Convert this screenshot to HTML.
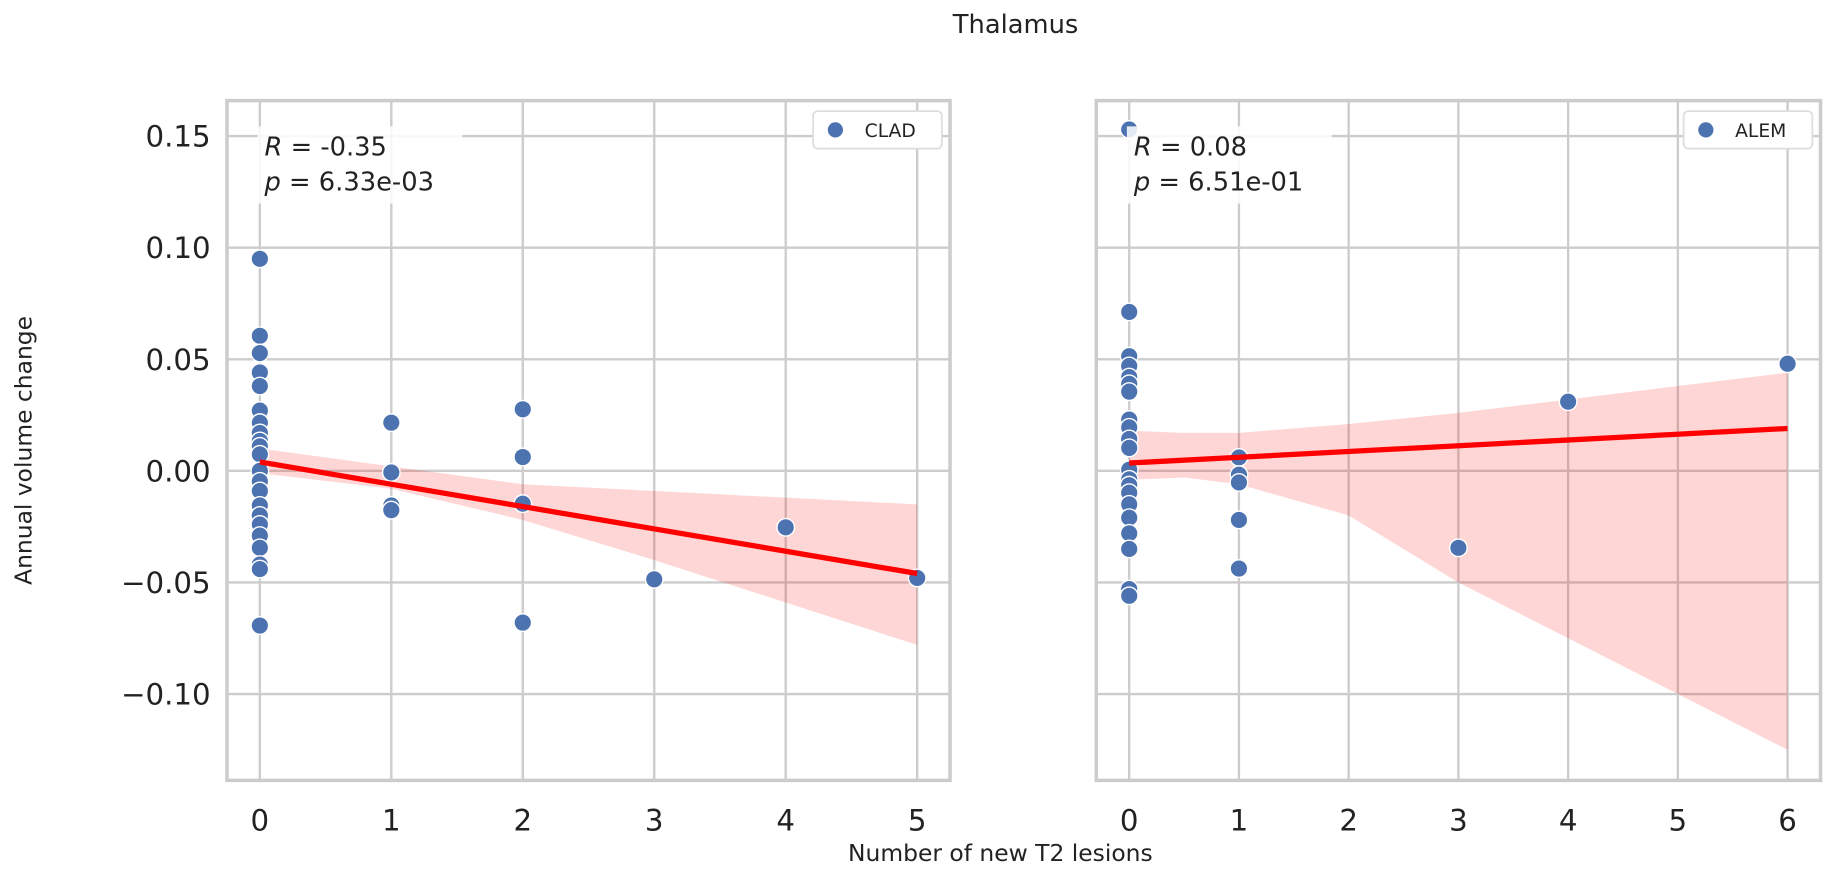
<!DOCTYPE html>
<html><head><meta charset="utf-8"><style>
body{margin:0;background:#fff;}
svg{display:block;font-family:"DejaVu Sans","Liberation Sans",sans-serif;}
</style></head><body>
<svg width="1831" height="869">
<g id="chart" transform="scale(1.17)">
<text x="868" y="28" font-size="22" fill="#222" text-anchor="middle">Thalamus</text>
<text x="27" y="385" font-size="20" fill="#222" text-anchor="middle" transform="rotate(-90 27 385)">Annual volume change</text>
<text x="855" y="736" font-size="20" fill="#222" text-anchor="middle">Number of new T2 lesions</text>
</g>
</svg>
<script>
const yTicks=[0.15,0.10,0.05,0.00,-0.05,-0.10];
const yTickLabels=["0.15","0.10","0.05","0.00","\u22120.05","\u22120.10"];
const cladX=[0,0,0,0,0,0,0,0,0,0,0,0,0,0,0,0,0,0,0,0,0,0,1,1,1,1,2,2,2,2,3,4,5];
const cladY=[0.095,0.0605,0.0528,0.0441,0.038,0.027,0.0216,0.017,0.0134,0.011,0.0074,0,-0.0047,-0.009,-0.0155,-0.020,-0.024,-0.029,-0.0345,-0.042,-0.044,-0.0693,0.0216,-0.0007,-0.0155,-0.0176,0.0276,0.0062,-0.0147,-0.068,-0.0486,-0.0253,-0.048];
const cladCiX=[0,1,2,3,4,5];
const cladCiLo=[-0.001,-0.008,-0.022,-0.040,-0.059,-0.078];
const cladCiHi=[0.010,0.002,-0.006,-0.009,-0.012,-0.015];
const cladFit=[0.004,-0.046];
const alemX=[0,0,0,0,0,0,0,0,0,0,0,0,0,0,0,0,0,0,0,0,0,1,1,1,1,1,3,4,6];
const alemY=[0.153,0.0712,0.0514,0.047,0.042,0.039,0.0355,0.023,0.0195,0.0143,0.0103,0.0005,-0.0038,-0.0064,-0.0098,-0.015,-0.021,-0.028,-0.035,-0.053,-0.056,0.006,-0.0017,-0.0052,-0.022,-0.0438,-0.0345,0.031,0.048];
const alemCiX=[0,0.5,1,2,3,4,5,6];
const alemCiLo=[-0.004,-0.003,-0.006,-0.020,-0.050,-0.075,-0.100,-0.125];
const alemCiHi=[0.018,0.017,0.017,0.021,0.026,0.032,0.038,0.044];
const alemFit=[0.0035,0.019];
const panels=[
 {name:'clad',label:'CLAD',x0:194,x1:812,xmin:-0.25,xmax:5.25,xt:[0,1,2,3,4,5],xs:cladX,ys:cladY,cx:cladCiX,lo:cladCiLo,hi:cladCiHi,fit:cladFit,fx:[0,5],R:'-0.35',p:'6.33e-03',yl:true},
 {name:'alem',label:'ALEM',x0:937,x1:1556,xmin:-0.3,xmax:6.3,xt:[0,1,2,3,4,5,6],xs:alemX,ys:alemY,cx:alemCiX,lo:alemCiLo,hi:alemCiHi,fit:alemFit,fx:[0,6],R:'0.08',p:'6.51e-01',yl:false}
];
const NS='http://www.w3.org/2000/svg';
const svg=document.getElementById('chart');
const top0=86,bot0=667,ymax=0.1659,ymin=-0.1387;
const Y=v=>top0+(ymax-v)/(ymax-ymin)*(bot0-top0);
function mk(t,a,parent){const e=document.createElementNS(NS,t);for(const k in a)e.setAttribute(k,a[k]);(parent||svg).appendChild(e);return e;}
panels.forEach(P=>{
 const X=v=>P.x0+(v-P.xmin)/(P.xmax-P.xmin)*(P.x1-P.x0);
 const g=mk('g',{});
 
 
 yTicks.forEach((t,i)=>{
  const l=mk('line',{x1:P.x0,x2:P.x1,y1:Y(t),y2:Y(t),stroke:'#cccccc','stroke-width':2},g);
  
  
  if(P.yl){const tx=mk('text',{x:P.x0-14,y:Y(t)+9,'font-size':25,fill:'#222','text-anchor':'end'},g);tx.textContent=yTickLabels[i];
  
  }
 });
 P.xt.forEach(t=>{
  const l=mk('line',{x1:X(t),x2:X(t),y1:top0,y2:bot0,stroke:'#cccccc','stroke-width':2},g);
  
  
  const tx=mk('text',{x:X(t),y:bot0+43,'font-size':25,fill:'#222','text-anchor':'middle'},g);tx.textContent=t;
  
  
 });
 let d='M'+P.cx.map((x,i)=>X(x)+','+Y(P.hi[i])).join('L');
 for(let i=P.cx.length-1;i>=0;i--)d+='L'+X(P.cx[i])+','+Y(P.lo[i]);
 const band=mk('path',{d:d+'Z',fill:'#ff0000','fill-opacity':0.16},g);
 
 
 P.xs.forEach((x,i)=>{
  const c=mk('circle',{cx:X(x),cy:Y(P.ys[i]),r:7.5,fill:'#4c72b0',stroke:'#fff','stroke-width':1.2},g);
  
  
 });
 const ln=mk('line',{x1:X(P.fx[0]),y1:Y(P.fit[0]),x2:X(P.fx[1]),y2:Y(P.fit[1]),stroke:'#ff0000','stroke-width':4.5},g);
 
 
 const fr=mk('rect',{x:P.x0,y:top0,width:P.x1-P.x0,height:bot0-top0,fill:'none',stroke:'#cccccc','stroke-width':3},g);
 
 
 const bx=X(0)-2;
 const bg=mk('rect',{x:bx,y:108,width:175,height:66,fill:'#fff','fill-opacity':0.85},g);
 
 
 const t1=mk('text',{x:X(0)+4,y:133,'font-size':22,fill:'#222'},g);
 t1.innerHTML='<tspan font-style="italic">R</tspan> = '+P.R;
 
 
 const t2=mk('text',{x:X(0)+4,y:163,'font-size':22,fill:'#222'},g);
 t2.innerHTML='<tspan font-style="italic">p</tspan> = '+P.p;
 
 
 const lg=mk('rect',{x:P.x1-117,y:95,width:110,height:32,rx:4,fill:'#fff',stroke:'#ddd','stroke-width':1.5},g);
 
 
 const lm=mk('circle',{cx:P.x1-98,cy:111,r:7,fill:'#4c72b0',stroke:'#fff'},g);
 
 
 const lt=mk('text',{x:P.x1-73,y:117,'font-size':16,fill:'#222'},g);lt.textContent=P.label;
 
 
});
</script>
</body></html>
